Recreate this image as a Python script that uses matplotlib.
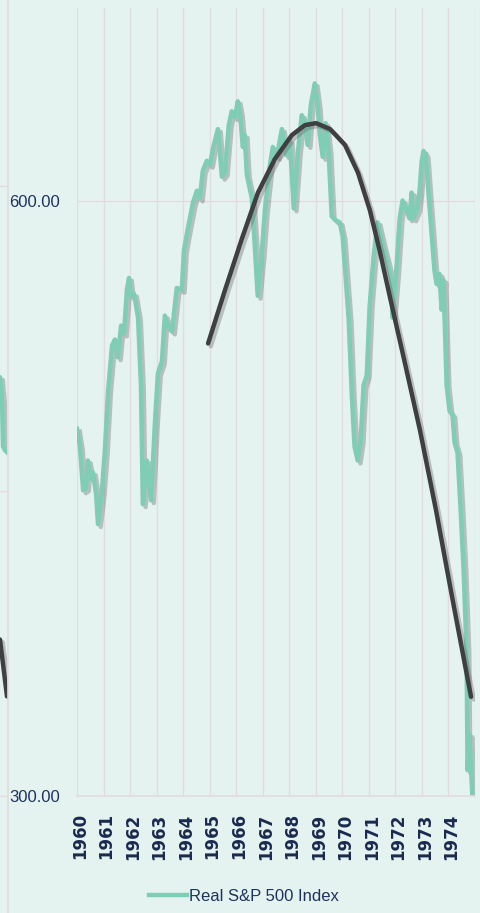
import matplotlib
matplotlib.use("Agg")
import matplotlib.pyplot as plt
import matplotlib.patheffects as pe
import matplotlib.transforms as mtrans
from matplotlib.lines import Line2D

# Real S&P 500 index (decimal years)
years = [1960.00, 1960.11, 1960.23, 1960.34, 1960.41, 1960.53, 1960.60, 1960.72, 1960.79, 1960.94,
         1961.05, 1961.17, 1961.32, 1961.43, 1961.54, 1961.66, 1961.77, 1961.88, 1961.96, 1962.03,
         1962.15, 1962.30, 1962.41, 1962.48, 1962.63, 1962.79, 1962.94, 1963.05, 1963.20, 1963.31,
         1963.46, 1963.58, 1963.76, 1963.95, 1964.03, 1964.18, 1964.37, 1964.52, 1964.63, 1964.74,
         1964.89, 1965.01, 1965.12, 1965.31, 1965.46, 1965.57, 1965.72, 1965.83, 1965.95, 1966.06,
         1966.14, 1966.25, 1966.32, 1966.40, 1966.59, 1966.70, 1966.81, 1966.96, 1967.08, 1967.26,
         1967.38, 1967.53, 1967.72, 1967.87, 1968.02, 1968.17, 1968.32, 1968.47, 1968.58, 1968.69,
         1968.81, 1968.96, 1969.07, 1969.15, 1969.26, 1969.37, 1969.48, 1969.60, 1969.75, 1969.90,
         1970.01, 1970.12, 1970.24, 1970.35, 1970.46, 1970.58, 1970.69, 1970.80, 1970.92, 1971.03,
         1971.18, 1971.33, 1971.52, 1971.71, 1971.86, 1971.89, 1972.04, 1972.16, 1972.27, 1972.42,
         1972.53, 1972.61, 1972.68, 1972.83, 1972.91, 1972.99, 1973.06, 1973.14, 1973.25, 1973.36,
         1973.47, 1973.55, 1973.66, 1973.74, 1973.81, 1973.93, 1974.04, 1974.15, 1974.23, 1974.34,
         1974.45, 1974.57, 1974.68, 1974.72, 1974.79, 1974.90]
real_sp = [485, 476, 454, 455, 469, 460, 463, 452, 437, 454,
           474, 504, 527, 530, 521, 537, 533, 555, 561, 552,
           553, 541, 507, 447, 469, 449, 489, 513, 519, 542,
           536, 534, 556, 555, 575, 586, 599, 605, 601, 615,
           620, 618, 626, 636, 612, 614, 638, 645, 642, 650,
           644, 627, 633, 613, 601, 577, 552, 573, 595, 617,
           627, 622, 636, 623, 630, 596, 624, 643, 639, 628,
           648, 659, 648, 633, 622, 639, 625, 592, 590, 589,
           582, 562, 540, 504, 476, 469, 479, 507, 512, 547,
           572, 589, 578, 568, 559, 541, 566, 591, 600, 595,
           591, 604, 591, 596, 605, 620, 625, 623, 603, 584,
           565, 558, 563, 545, 560, 507, 494, 492, 478, 473,
           446, 414, 373, 313, 331, 300]

# polynomial trend line (from 1965)
trend_years = [1964.94, 1965.58, 1966.22, 1966.82, 1967.46, 1968.10, 1968.59, 1969.01, 1969.54,
               1970.10, 1970.59, 1971.04, 1971.42, 1971.80, 1972.36, 1972.93, 1973.53, 1974.14, 1974.85]
trend_vals = [528, 555, 581, 604, 621, 633, 638, 639, 636,
              628, 614, 595, 574, 551, 518, 484, 444, 400, 350]

# slice of the neighbouring chart on the far left
left_x = [0, 2, 3, 5, 7.5]
left_vals = [506, 495, 472, 470, 469]
left_trend_x = [0, 7]
left_trend = [377, 349]

year_ticks = list(range(1960, 1975))
y_ticks = [300, 600]

bg = "#e5f3f0"
green = "#7fcdb5"
dark = "#3f3f41"
grid_c = "#e2dcdf"
navy = "#1e3260"

fig = plt.figure(figsize=(4.81, 9.13), dpi=100, facecolor=bg)

shadow = [pe.SimpleLineShadow(offset=(2.0, -2.0), shadow_color="#606060", alpha=0.35), pe.Normal()]

# left strip (edge of the previous chart)
axl = fig.add_axes([0, 0, 8 / 481, 1])
axl.set_facecolor(bg)
axl.set_xlim(0, 8)
axl.set_ylim(242.5, 691.5)
axl.set_yticks([300, 450, 600])
axl.grid(axis="y", color=grid_c, linewidth=1)
axl.tick_params(left=False, bottom=False, labelleft=False, labelbottom=False)
for s in ["top", "left", "bottom"]:
    axl.spines[s].set_visible(False)
axl.spines["right"].set_color(grid_c)
axl.spines["right"].set_linewidth(1.2)
axl.plot(left_x, left_vals, color=green, lw=3.2, path_effects=shadow, solid_capstyle="round")
axl.plot(left_trend_x, left_trend, color=dark, lw=3.2, path_effects=shadow, solid_capstyle="round")

# main chart
ax = fig.add_axes([77 / 481, 117 / 913, 398 / 481, 788 / 913])
ax.set_facecolor(bg)
ax.set_xlim(1960, 1975)
ax.set_ylim(300, 697)
ax.set_xticks(year_ticks + [1975])
ax.set_xticklabels([str(y) for y in year_ticks] + [""], rotation=90,
                   fontsize=12, fontweight="bold", color="#1a2a4f", family="DejaVu Sans")
ax.set_yticks(y_ticks)
ax.set_yticklabels(["%.2f" % v for v in y_ticks], fontsize=12, color=navy,
                   family="Liberation Sans")
ax.tick_params(axis="x", length=0, pad=12.5)
ax.tick_params(axis="y", length=0, pad=12)
shift = mtrans.ScaledTranslation(3 / 100, 0, fig.dpi_scale_trans)
for lab in ax.get_xticklabels():
    lab.set_transform(lab.get_transform() + shift)
ax.grid(True, color=grid_c, linewidth=1)
ax.set_axisbelow(True)
for s in ["top", "left", "right"]:
    ax.spines[s].set_visible(False)
ax.spines["bottom"].set_color(grid_c)
ax.spines["bottom"].set_linewidth(1.2)

ax.plot(years, real_sp, color=green, lw=3.2, path_effects=shadow, solid_joinstyle="round",
        label="Real S&P 500 Index")
ax.plot(trend_years, trend_vals, color=dark, lw=3.2, path_effects=shadow,
        solid_capstyle="round", solid_joinstyle="round")

handle = Line2D([], [], color=green, lw=3.2)
fig.legend([handle], ["Real S&P 500 Index"], loc="center", bbox_to_anchor=(0.507, 0.018),
           frameon=False, handlelength=2.3, handletextpad=0.15,
           prop={"family": "Liberation Sans", "size": 12}, labelcolor=navy)

fig.savefig("out.png", dpi=100, facecolor=bg)
